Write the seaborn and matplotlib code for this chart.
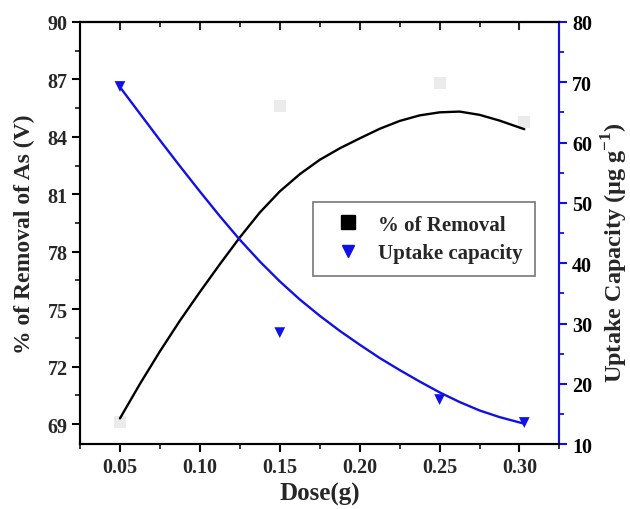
import matplotlib
matplotlib.use("Agg")
import matplotlib.pyplot as plt
import seaborn as sns
import numpy as np
import pandas as pd
from matplotlib.ticker import MultipleLocator
from matplotlib.lines import Line2D

# ---- data ----
dose = [0.05, 0.15, 0.25, 0.303]
removal = [69.1, 85.6, 86.8, 84.8]
uptake = [69.3, 28.5, 17.4, 13.6]

fit_dose = [0.05, 0.0625, 0.075, 0.0875, 0.10, 0.1125, 0.125, 0.1375, 0.15,
            0.1625, 0.175, 0.1875, 0.20, 0.2125, 0.225, 0.2375, 0.25, 0.2625,
            0.275, 0.2875, 0.303]
fit_removal = [69.3, 71.1, 72.8, 74.4, 75.9, 77.35, 78.75, 80.05, 81.15,
               82.05, 82.8, 83.4, 83.92, 84.42, 84.83, 85.12, 85.28, 85.32,
               85.15, 84.85, 84.4]
fit_uptake = [69.2, 64.8, 60.4, 56.1, 51.9, 47.8, 43.9, 40.3, 37.0,
              34.0, 31.3, 28.8, 26.5, 24.3, 22.3, 20.4, 18.6, 17.0,
              15.6, 14.5, 13.4]

xticks = [0.05, 0.10, 0.15, 0.20, 0.25, 0.30]
lticks = [69, 72, 75, 78, 81, 84, 87, 90]
rticks = [10, 20, 30, 40, 50, 60, 70, 80]

sns.set_theme(style="ticks")
plt.rcParams['font.family'] = ['Liberation Serif', 'DejaVu Serif']
plt.rcParams['font.weight'] = 'bold'
plt.rcParams['axes.labelweight'] = 'bold'
plt.rcParams['mathtext.fontset'] = 'custom'
plt.rcParams['mathtext.rm'] = 'Liberation Serif'
plt.rcParams['mathtext.bf'] = 'Liberation Serif:bold'

BLUE = "#1010e8"
pts = pd.DataFrame({"dose": dose, "removal": removal, "uptake": uptake})
fit = pd.DataFrame({"dose": fit_dose, "removal": fit_removal, "uptake": fit_uptake})

fig = plt.figure(figsize=(6.3, 5.1), dpi=100)
ax = fig.add_axes([0.127, 0.127, 0.761, 0.828])
ax2 = ax.twinx()

sns.lineplot(data=fit, x="dose", y="removal", ax=ax, color="black", lw=1.7, zorder=3)
sns.scatterplot(data=pts, x="dose", y="removal", ax=ax, marker="s", s=75,
                color="#ebebeb", edgecolor="none", zorder=2)
sns.lineplot(data=fit, x="dose", y="uptake", ax=ax2, color=BLUE, lw=1.7, zorder=3)
sns.scatterplot(data=pts, x="dose", y="uptake", ax=ax2, marker="v", s=60,
                color=BLUE, edgecolor="none", zorder=4)

ax.set_xlim(0.025, 0.325)
ax.set_ylim(67.95, 90)
ax2.set_ylim(10, 80)
ax.set_xticks(xticks)
ax.set_xticklabels([f"{t:.2f}" for t in xticks])
ax.set_yticks(lticks)
ax2.set_yticks(rticks)
ax.xaxis.set_minor_locator(MultipleLocator(0.025))
ax.yaxis.set_minor_locator(MultipleLocator(1.5))
ax2.yaxis.set_minor_locator(MultipleLocator(5))

for a in (ax, ax2):
    for s in a.spines.values():
        s.set_linewidth(1.5)
        s.set_color("black")
ax2.spines["right"].set_color(BLUE)

ax.tick_params(axis="both", which="major", direction="out", length=6, width=1.5,
               labelsize=14.5, color="black", pad=3)
ax.tick_params(axis="both", which="minor", direction="out", length=3.5, width=1.3)
ax2.tick_params(axis="y", which="major", direction="out", length=6, width=1.5,
                labelsize=14.5, colors=BLUE, labelcolor="black", pad=3)
ax2.tick_params(axis="y", which="minor", direction="out", length=3.5, width=1.3, colors=BLUE)

top = ax.secondary_xaxis("top")
top.set_xticks(xticks)
top.xaxis.set_minor_locator(MultipleLocator(0.025))
top.tick_params(axis="x", which="major", direction="in", length=6, width=1.5, labeltop=False)
top.tick_params(axis="x", which="minor", direction="in", length=3.5, width=1.3)
top.spines["top"].set_linewidth(1.5)

for lab in ax.get_xticklabels() + ax.get_yticklabels() + ax2.get_yticklabels():
    lab.set_fontweight("bold")

ax.set_xlabel("Dose(g)", fontsize=18, fontweight="bold", labelpad=4)
ax.set_ylabel("% of Removal of As (V)", fontsize=17, fontweight="bold", labelpad=9)
ax2.set_ylabel("Uptake Capacity (μg g$^{-1}$)", fontsize=17.5, fontweight="bold")
ax2.yaxis.set_label_coords(1.083, 0.455)

handles = [Line2D([], [], marker="s", ls="none", color="black", markersize=9.5),
           Line2D([], [], marker="v", ls="none", color=BLUE, markersize=8.5)]
leg = ax.legend(handles, ["% of Removal", "Uptake capacity"], loc="upper left",
                bbox_to_anchor=(0.486, 0.573), borderaxespad=0, frameon=True,
                fancybox=False, prop={"size": 15, "weight": "bold"},
                handletextpad=0.3, borderpad=0.6, labelspacing=0.4, handlelength=2.2)
leg.get_frame().set_edgecolor("#555555")
leg.get_frame().set_linewidth(1.2)
leg.set_zorder(10)
if ax2.get_legend():
    ax2.get_legend().remove()

fig.savefig("out.png", dpi=100)
